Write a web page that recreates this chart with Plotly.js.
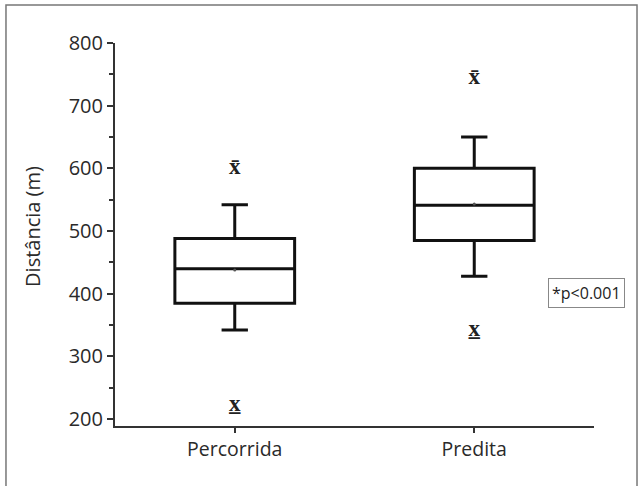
<!DOCTYPE html>
<html><head><meta charset="utf-8">
<script src="https://cdn.plot.ly/plotly-3.0.1.min.js"></script>
<style>html,body{margin:0;padding:0;background:#fff}#chart{width:642px;height:486px}</style>
</head><body><div id="chart"></div>
<script>
const categories = ['Percorrida', 'Predita'];
const q1 = [385, 485];
const median = [440, 541];
const q3 = [488, 600];
const lowerWhisker = [342, 428];
const upperWhisker = [542, 650];
const means = [438, 543];
const maxValues = [600, 744];
const minValues = [222, 342];
const yTicks = [200, 300, 400, 500, 600, 700, 800];

const FONT = 'Open Sans, Lato, sans-serif';

const boxTrace = {
  type: 'box',
  x: categories,
  q1: q1, median: median, q3: q3,
  lowerfence: lowerWhisker, upperfence: upperWhisker,
  boxpoints: false,
  width: 0.5,
  whiskerwidth: 0.22,
  line: {color: '#111', width: 3},
  fillcolor: 'rgba(255,255,255,0)',
  showlegend: false,
  hoverinfo: 'skip'
};

const meanTrace = {
  type: 'scatter', mode: 'markers',
  x: categories, y: means,
  marker: {color: '#555', size: 3},
  showlegend: false, hoverinfo: 'skip'
};

const maxTrace = {
  type: 'scatter', mode: 'text',
  x: categories, y: maxValues,
  text: maxValues.map(() => 'x\u0304'),
  textposition: 'middle center',
  textfont: {family: 'Liberation Serif', size: 23, color: '#222', weight: 'bold'},
  showlegend: false, hoverinfo: 'skip'
};

const minTrace = {
  type: 'scatter', mode: 'text',
  x: categories, y: minValues,
  text: minValues.map(() => 'x\u0332'),
  textposition: 'middle center',
  textfont: {family: 'Liberation Serif', size: 23, color: '#222', weight: 'bold'},
  showlegend: false, hoverinfo: 'skip'
};

const layout = {
  width: 642, height: 486,
  margin: {l: 115, r: 48, t: 43, b: 60},
  paper_bgcolor: '#fff', plot_bgcolor: '#fff',
  font: {family: FONT, color: '#333'},
  xaxis: {
    type: 'category',
    range: [-0.5, 1.5],
    showline: true, linecolor: '#333', linewidth: 2,
    ticks: 'outside', ticklen: 5, tickwidth: 2, tickcolor: '#333',
    showgrid: false, zeroline: false,
    tickfont: {family: FONT, size: 19.5, color: '#2a2a2a'}
  },
  yaxis: {
    range: [189, 800],
    tickvals: yTicks,
    showline: true, linecolor: '#333', linewidth: 2,
    ticks: 'outside', ticklen: 6, tickwidth: 2, tickcolor: '#333',
    minor: {ticks: 'outside', ticklen: 4, tickwidth: 2, tickcolor: '#333', dtick: 50, tick0: 250, showgrid: false},
    showgrid: false, zeroline: false,
    tickfont: {family: FONT, size: 20, color: '#2a2a2a'}
  },
  shapes: [{
    type: 'rect', xref: 'paper', yref: 'paper',
    x0: -0.2276, x1: 1.0898, y0: -0.25, y1: 1.099,
    line: {color: '#777', width: 1.5}, fillcolor: 'rgba(0,0,0,0)'
  }],
  annotations: [{
    xref: 'paper', yref: 'paper',
    x: -0.171, y: 0.52, xanchor: 'center', yanchor: 'middle',
    text: 'Distância (m)', textangle: -90, showarrow: false,
    font: {family: FONT, size: 20, color: '#2a2a2a'}
  }, {
    xref: 'paper', yref: 'paper',
    x: 0.985, y: 0.348, xanchor: 'center', yanchor: 'middle',
    text: '*p<0.001', showarrow: false,
    font: {family: FONT, size: 16, color: '#222'},
    bordercolor: '#888', borderwidth: 1, borderpad: 3, bgcolor: '#fff'
  }]
};

Plotly.newPlot('chart', [boxTrace, meanTrace, maxTrace, minTrace], layout, {displayModeBar: false, staticPlot: true});
</script>
</body></html>
